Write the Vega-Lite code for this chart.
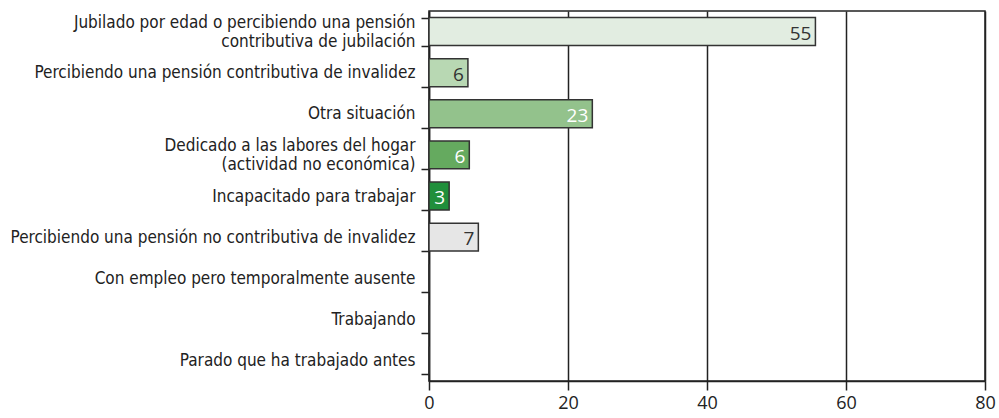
{
  "$schema": "https://vega.github.io/schema/vega-lite/v6.json",
  "width": 556,
  "height": 370,
  "padding": {"left": 429, "top": 11, "right": 14, "bottom": 37},
  "autosize": {"type": "none"},
  "background": "white",
  "config": {
    "view": {"stroke": "#222", "strokeWidth": 1.5},
    "font": "DejaVu Sans Condensed"
  },
  "data": {
    "values": [
      {"cat": "Jubilado por edad o percibiendo una pensión|contributiva de jubilación", "value": 55.6, "label": "55"},
      {"cat": "Percibiendo una pensión contributiva de invalidez", "value": 5.6, "label": "6"},
      {"cat": "Otra situación", "value": 23.5, "label": "23"},
      {"cat": "Dedicado a las labores del hogar|(actividad no económica)", "value": 5.8, "label": "6"},
      {"cat": "Incapacitado para trabajar", "value": 2.9, "label": "3"},
      {"cat": "Percibiendo una pensión no contributiva de invalidez", "value": 7.1, "label": "7"},
      {"cat": "Con empleo pero temporalmente ausente", "value": 0, "label": null},
      {"cat": "Trabajando", "value": 0, "label": null},
      {"cat": "Parado que ha trabajado antes", "value": 0, "label": null}
    ]
  },
  "encoding": {
    "y": {
      "field": "cat",
      "type": "nominal",
      "sort": null,
      "scale": {"paddingInner": 0.32, "paddingOuter": 0.16},
      "axis": {
        "title": null,
        "labelExpr": "isValid(datum.value) ? split(datum.value, '|') : ''",
        "labelFont": "DejaVu Sans Condensed, Liberation Sans",
        "labelFontSize": 17,
        "labelLineHeight": 19,
        "labelColor": "#222",
        "labelPadding": 6,
        "labelLimit": 500,
        "labelOffset": {"condition": {"test": "isValid(datum.value) && indexof(datum.value, '|') >= 0", "value": -9.5}, "value": 0},
        "tickBand": "extent",
        "tickSize": 8,
        "tickColor": "#222",
        "tickWidth": 1.5,
        "domainColor": "#222",
        "domainWidth": 1.5
      }
    },
    "x": {
      "field": "value",
      "type": "quantitative",
      "scale": {"domain": [0, 80], "nice": false},
      "axis": {
        "title": null,
        "values": [0, 20, 40, 60, 80],
        "grid": true,
        "gridColor": "#222",
        "gridWidth": 1.5,
        "gridOpacity": 1,
        "tickSize": 9,
        "tickColor": "#222",
        "tickWidth": 1.5,
        "domainColor": "#222",
        "domainWidth": 1.5,
        "labelFont": "Open Sans",
        "labelFontSize": 18,
        "labelColor": "#222",
        "labelPadding": 4,
        "labelFlush": false
      }
    }
  },
  "layer": [
    {
      "mark": {"type": "bar", "stroke": "#333", "strokeWidth": 1.5},
      "encoding": {
        "color": {
          "field": "cat",
          "type": "nominal",
          "legend": null,
          "scale": {
            "domain": [
              "Jubilado por edad o percibiendo una pensión|contributiva de jubilación",
              "Percibiendo una pensión contributiva de invalidez",
              "Otra situación",
              "Dedicado a las labores del hogar|(actividad no económica)",
              "Incapacitado para trabajar",
              "Percibiendo una pensión no contributiva de invalidez",
              "Con empleo pero temporalmente ausente",
              "Trabajando",
              "Parado que ha trabajado antes"
            ],
            "range": ["#e2ede1", "#b8d8b3", "#93c28c", "#65aa5f", "#208f3b", "#e6e6e6", "#ffffff", "#ffffff", "#ffffff"]
          }
        }
      }
    },
    {
      "transform": [{"filter": "isValid(datum.label)"}],
      "mark": {"type": "text", "align": "right", "baseline": "middle", "dx": -4, "dy": 2, "font": "Open Sans", "fontSize": 19},
      "encoding": {
        "text": {"field": "label"},
        "color": {
          "condition": {"test": "datum.label == '23' || datum.cat == 'Incapacitado para trabajar' || datum.cat == 'Dedicado a las labores del hogar|(actividad no económica)'", "value": "#ffffff"},
          "value": "#333333"
        }
      }
    }
  ]
}
